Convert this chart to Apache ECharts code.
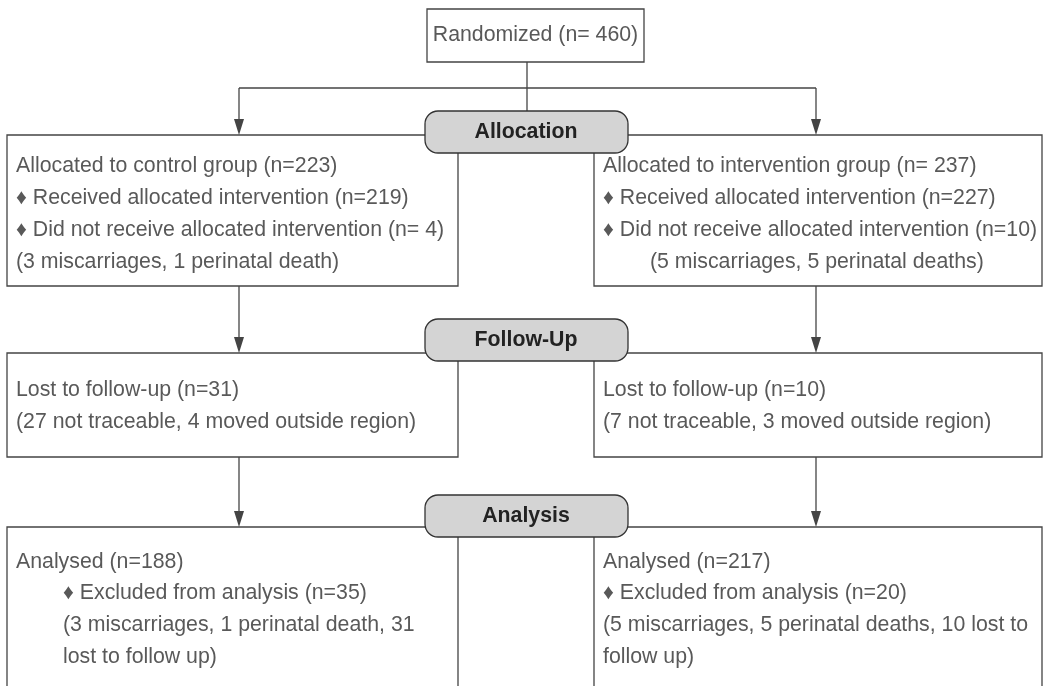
<!DOCTYPE html>
<html>
<head>
<meta charset="utf-8">
<script src="https://cdn.jsdelivr.net/npm/echarts@6/dist/echarts.min.js"></script>
<style>
  html, body { margin: 0; padding: 0; background: #fff; }
  #main { width: 1044px; height: 686px; }
</style>
</head>
<body>
<div id="main"></div>
<script>
// flow chart texts
var randomized = 'Randomized (n= 460)';
var stages = ['Allocation', 'Follow-Up', 'Analysis'];
var controlAlloc = [
  'Allocated to control group (n=223)',
  '\u2666 Received allocated intervention (n=219)',
  '\u2666 Did not receive allocated intervention (n= 4)',
  '(3 miscarriages, 1 perinatal death)'
];
var interventionAlloc = [
  'Allocated to intervention group (n= 237)',
  '\u2666 Received allocated intervention (n=227)',
  '\u2666 Did not receive allocated intervention (n=10)',
  '(5 miscarriages, 5 perinatal deaths)'
];
var controlFollow = [
  'Lost to follow-up (n=31)',
  '(27 not traceable, 4 moved outside region)'
];
var interventionFollow = [
  'Lost to follow-up (n=10)',
  '(7 not traceable, 3 moved outside region)'
];
var controlAnalysis = [
  'Analysed (n=188)',
  '\u2666 Excluded from analysis (n=35)',
  '(3 miscarriages, 1 perinatal death, 31',
  'lost to follow up)'
];
var interventionAnalysis = [
  'Analysed (n=217)',
  '\u2666 Excluded from analysis (n=20)',
  '(5 miscarriages, 5 perinatal deaths, 10 lost to',
  'follow up)'
];

var FONT = '"Liberation Sans", Arial, Helvetica, sans-serif';
var TEXT_COLOR = '#595959';
var LINE_COLOR = '#444';
var LW = 1.3;

var leftX = 7, leftW = 451;      // left column box
var rightX = 594, rightW = 448;  // right column box
var leftMid = 239, rightMid = 816, centerX = 527;
var leftTextX = 16, rightTextX = 603;

var g = [];

function box(x, y, w, h) {
  g.push({
    type: 'rect', shape: { x: x, y: y, width: w, height: h },
    style: { fill: '#fff', stroke: LINE_COLOR, lineWidth: LW }, z: 1
  });
}
function line(x1, y1, x2, y2) {
  g.push({
    type: 'line', shape: { x1: x1, y1: y1, x2: x2, y2: y2 },
    style: { stroke: LINE_COLOR, lineWidth: LW }, z: 2
  });
}
function arrow(x, y1, y2) {
  line(x, y1, x, y2 - 14);
  g.push({
    type: 'polygon',
    shape: { points: [[x - 5, y2 - 16], [x + 5, y2 - 16], [x, y2]] },
    style: { fill: LINE_COLOR }, z: 3
  });
}
function txt(s, x, y, opt) {
  opt = opt || {};
  g.push({
    type: 'text', x: x, y: y, z: 10,
    style: {
      text: s, fill: opt.color || TEXT_COLOR,
      font: (opt.bold ? 'bold ' : '') + '21.3px ' + FONT,
      textAlign: opt.align || 'left', textVerticalAlign: 'middle'
    }
  });
}
function lines(arr, x, ys, indents) {
  arr.forEach(function (s, i) {
    txt(s, x + (indents ? indents[i] : 0), ys[i]);
  });
}
function pill(label, y) {
  g.push({
    type: 'rect', shape: { x: 425, y: y, width: 203, height: 42, r: 13 },
    style: { fill: '#d4d4d4', stroke: '#333', lineWidth: LW }, z: 5
  });
  txt(label, 526, y + 21, { bold: true, color: '#222', align: 'center' });
}

// randomized box
box(427, 9, 217, 53);
txt(randomized, 535.5, 35, { align: 'center' });
line(centerX, 62, centerX, 111);
line(leftMid, 88, rightMid, 88);
arrow(leftMid, 88, 135);
arrow(rightMid, 88, 135);

// allocation row
box(leftX, 135, leftW, 151);
box(rightX, 135, rightW, 151);
pill(stages[0], 111);
lines(controlAlloc, leftTextX, [166, 198, 230, 262]);
lines(interventionAlloc, rightTextX, [166, 198, 230, 262], [0, 0, 0, 47]);

// follow-up row
arrow(leftMid, 286, 353);
arrow(rightMid, 286, 353);
box(leftX, 353, leftW, 104);
box(rightX, 353, rightW, 104);
pill(stages[1], 319);
lines(controlFollow, leftTextX, [390, 422]);
lines(interventionFollow, rightTextX, [390, 422]);

// analysis row
arrow(leftMid, 457, 527);
arrow(rightMid, 457, 527);
box(leftX, 527, leftW, 200);
box(rightX, 527, rightW, 200);
pill(stages[2], 495);
lines(controlAnalysis, leftTextX, [562, 593, 625, 657], [0, 47, 47, 47]);
lines(interventionAnalysis, rightTextX, [562, 593, 625, 657]);

var chart = echarts.init(document.getElementById('main'));
chart.setOption({
  backgroundColor: '#fff',
  animation: false,
  graphic: g
});
</script>
</body>
</html>
